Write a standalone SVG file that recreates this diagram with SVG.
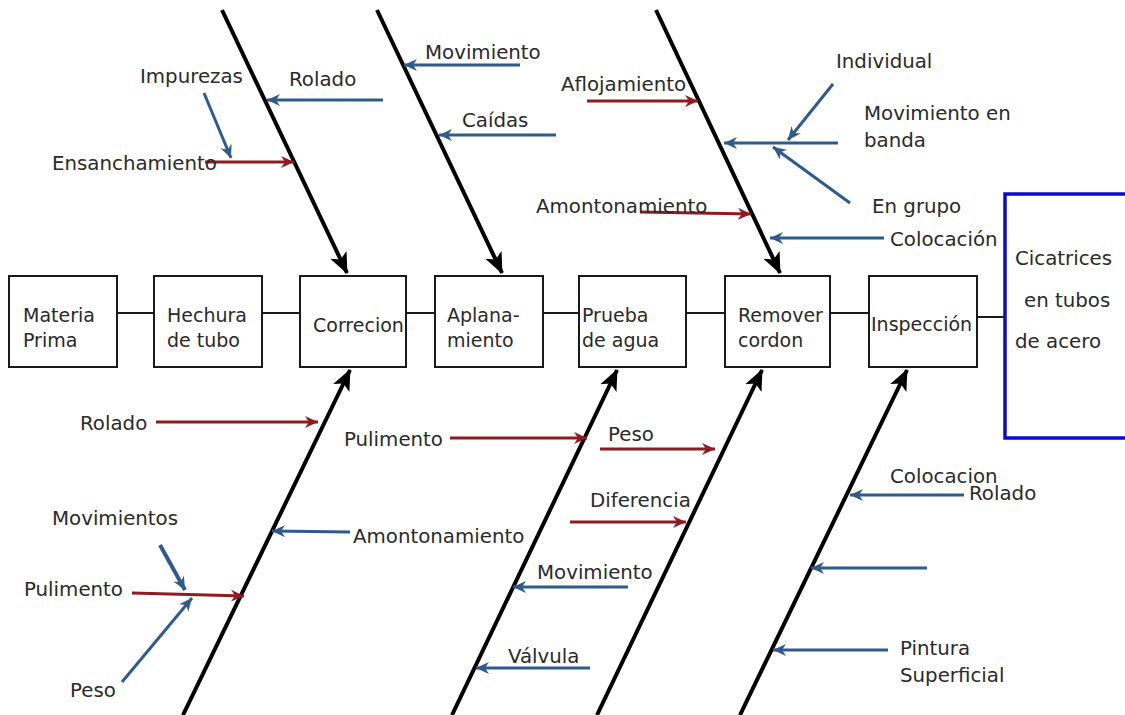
<svg xmlns="http://www.w3.org/2000/svg" width="1125" height="715" viewBox="0 0 1125 715">
  <defs>
    <style>
      text { font-family: "DejaVu Sans", "Liberation Sans", sans-serif; font-size: 19.8px; fill: #2a2a2a; }
      text.step { font-size: 19px; }
      .box { fill: #ffffff; stroke: #1a1a1a; stroke-width: 2; }
      .effect { fill: #ffffff; stroke: #0a0ad0; stroke-width: 3.5; }
      .link { stroke: #1a1a1a; stroke-width: 2; fill: none; }
      .bone { stroke: #000000; stroke-width: 4; fill: none; marker-end: url(#boneHead); }
      .blue { stroke: #2f5a8c; stroke-width: 3; fill: none; marker-end: url(#blueHead); }
      .red { stroke: #8e1b22; stroke-width: 3; fill: none; marker-end: url(#redHead); }
    </style>
    <marker id="boneHead" markerUnits="userSpaceOnUse" viewBox="0 -10 22 20" refX="20" refY="0" markerWidth="22" markerHeight="20" orient="auto">
      <path d="M0,-9 L21,0 L0,9 L5,0 z" fill="#000000"/>
    </marker>
    <marker id="blueHead" markerUnits="userSpaceOnUse" viewBox="0 -7 14 14" refX="13" refY="0" markerWidth="14" markerHeight="14" orient="auto">
      <path d="M0,-6 L13,0 L0,6 L4,0 z" fill="#2f5a8c"/>
    </marker>
    <marker id="redHead" markerUnits="userSpaceOnUse" viewBox="0 -7 14 14" refX="13" refY="0" markerWidth="14" markerHeight="14" orient="auto">
      <path d="M0,-6 L13,0 L0,6 L4,0 z" fill="#8e1b22"/>
    </marker>
  </defs>

  <rect width="1125" height="715" fill="#ffffff"/>

  <g id="connectors">
    <!-- process line -->
    <g id="process-links">
      <line class="link" x1="117" y1="313" x2="154" y2="313"/>
      <line class="link" x1="262" y1="313" x2="300" y2="313"/>
      <line class="link" x1="406" y1="313" x2="435" y2="313"/>
      <line class="link" x1="543" y1="313" x2="579" y2="313"/>
      <line class="link" x1="686" y1="313" x2="725" y2="313"/>
      <line class="link" x1="830" y1="313" x2="869" y2="313"/>
      <line class="link" x1="977" y1="317" x2="1004" y2="317"/>
    </g>

    <!-- main bones -->
    <g id="bones">
      <line class="bone" x1="222" y1="10" x2="347" y2="273"/>
      <line class="bone" x1="377" y1="10" x2="502" y2="273"/>
      <line class="bone" x1="656" y1="10" x2="780" y2="273"/>
      <line class="bone" x1="183" y1="715" x2="350" y2="370"/>
      <line class="bone" x1="452" y1="715" x2="617" y2="370"/>
      <line class="bone" x1="597" y1="715" x2="762" y2="370"/>
      <line class="bone" x1="740" y1="715" x2="907" y2="370"/>
    </g>

    <!-- causes -->
    <g id="ribs">
      <!-- Correcion, top -->
      <line class="blue" x1="383" y1="100" x2="267" y2="100"/>
      <line class="blue" x1="204" y1="93" x2="231" y2="158"/>
      <line class="red" x1="205" y1="162" x2="294" y2="162"/>
      <!-- Aplanamiento, top -->
      <line class="blue" x1="520" y1="65" x2="404" y2="65"/>
      <line class="blue" x1="556" y1="135" x2="439" y2="135"/>
      <!-- Remover cordon, top -->
      <line class="red" x1="587" y1="101" x2="698" y2="101"/>
      <line class="blue" x1="838" y1="143" x2="724" y2="143"/>
      <line class="blue" x1="833" y1="84" x2="788" y2="140"/>
      <line class="blue" x1="850" y1="203" x2="773" y2="147"/>
      <line class="red" x1="640" y1="212" x2="751" y2="214"/>
      <line class="blue" x1="884" y1="238" x2="770" y2="238"/>
      <!-- Correcion, bottom -->
      <line class="red" x1="156" y1="422" x2="318" y2="422"/>
      <line class="blue" x1="350" y1="532" x2="272" y2="531"/>
      <line class="blue" x1="160" y1="545" x2="185" y2="590" style="stroke-width:4"/>
      <line class="red" x1="132" y1="593" x2="244" y2="596"/>
      <line class="blue" x1="122" y1="682" x2="192" y2="598"/>
      <!-- Prueba de agua, bottom -->
      <line class="red" x1="450" y1="438" x2="587" y2="438"/>
      <line class="blue" x1="628" y1="587" x2="513" y2="587"/>
      <line class="blue" x1="590" y1="668" x2="476" y2="668"/>
      <!-- Remover cordon, bottom -->
      <line class="red" x1="600" y1="449" x2="715" y2="449"/>
      <line class="red" x1="570" y1="522" x2="686" y2="522"/>
      <!-- Inspeccion, bottom -->
      <line class="blue" x1="964" y1="495" x2="850" y2="495"/>
      <line class="blue" x1="927" y1="568" x2="811" y2="568"/>
      <line class="blue" x1="888" y1="650" x2="773" y2="650"/>
    </g>
  </g>

  <!-- process steps -->
  <g id="materia-prima">
    <rect class="box" x="9" y="276" width="108" height="91"/>
    <text class="step" x="23" y="322">Materia</text>
    <text class="step" x="23" y="347">Prima</text>
  </g>
  <g id="hechura-de-tubo">
    <rect class="box" x="154" y="276" width="108" height="91"/>
    <text class="step" x="167" y="322">Hechura</text>
    <text class="step" x="167" y="347">de tubo</text>
  </g>
  <g id="correcion">
    <rect class="box" x="300" y="276" width="106" height="91"/>
    <text class="step" x="313" y="332">Correcion</text>
  </g>
  <g id="aplanamiento">
    <rect class="box" x="435" y="276" width="108" height="91"/>
    <text class="step" x="447" y="322">Aplana-</text>
    <text class="step" x="447" y="347">miento</text>
  </g>
  <g id="prueba-de-agua">
    <rect class="box" x="579" y="276" width="107" height="91"/>
    <text class="step" x="582" y="322">Prueba</text>
    <text class="step" x="582" y="347">de agua</text>
  </g>
  <g id="remover-cordon">
    <rect class="box" x="725" y="276" width="105" height="91"/>
    <text class="step" x="738" y="322">Remover</text>
    <text class="step" x="738" y="347">cordon</text>
  </g>
  <g id="inspeccion">
    <rect class="box" x="869" y="276" width="108" height="91"/>
    <text class="step" x="871" y="331">Inspección</text>
  </g>

  <!-- effect -->
  <g id="efecto">
    <rect class="effect" x="1005" y="194" width="140" height="244"/>
    <text x="1015" y="265">Cicatrices</text>
    <text x="1024" y="307">en tubos</text>
    <text x="1015" y="348">de acero</text>
  </g>

  <!-- cause labels -->
  <g id="labels">
    <text x="140" y="83">Impurezas</text>
    <text x="289" y="86">Rolado</text>
    <text x="52" y="170">Ensanchamiento</text>
    <text x="425" y="59">Movimiento</text>
    <text x="462" y="127">Caídas</text>
    <text x="561" y="91">Aflojamiento</text>
    <text x="536" y="213">Amontonamiento</text>
    <text x="836" y="68">Individual</text>
    <text x="864" y="120">Movimiento en</text>
    <text x="864" y="147">banda</text>
    <text x="872" y="213">En grupo</text>
    <text x="890" y="246">Colocación</text>
    <text x="80" y="430">Rolado</text>
    <text x="52" y="525">Movimientos</text>
    <text x="24" y="596">Pulimento</text>
    <text x="70" y="697">Peso</text>
    <text x="353" y="543">Amontonamiento</text>
    <text x="344" y="446">Pulimento</text>
    <text x="537" y="579">Movimiento</text>
    <text x="508" y="663">Válvula</text>
    <text x="608" y="441">Peso</text>
    <text x="590" y="507">Diferencia</text>
    <text x="890" y="483">Colocacion</text>
    <text x="969" y="500">Rolado</text>
    <text x="900" y="655">Pintura</text>
    <text x="900" y="682">Superficial</text>
  </g>
</svg>
